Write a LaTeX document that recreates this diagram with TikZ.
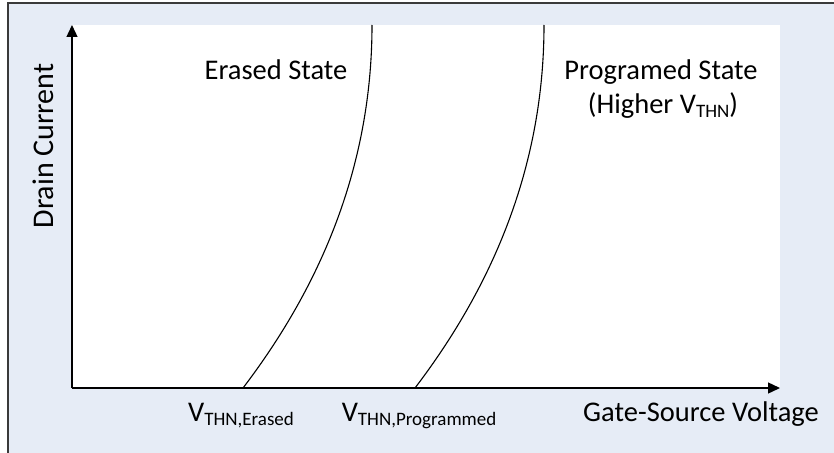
\documentclass[tikz,border=0pt]{standalone}
\usepackage{fontspec}
\setmainfont{Carlito}
\usetikzlibrary{arrows.meta,positioning}
\definecolor{panelblue}{HTML}{E6ECF6}
\definecolor{framegray}{HTML}{3A3A3A}
\newcommand{\vsub}[1]{V\raisebox{-4pt}{\fontsize{19}{19}\selectfont #1}}

\begin{document}
\begin{tikzpicture}[x=1pt, y=-1pt,
  lbl/.style={font=\fontsize{28.5}{34}\selectfont, inner sep=0pt, align=center},
  axis/.style={-{Triangle[length=12pt,width=11pt]}, line width=1.3pt},
  curve/.style={line width=1.1pt}
]
  \useasboundingbox (0,0) rectangle (834,452);
  \clip (0,0) rectangle (834,452);
  % frame and plot area
  \draw[framegray, line width=1.5pt, fill=panelblue] (8,3) rectangle (850,470);
  \fill[white] (72,25) rectangle (780,388);

  \coordinate (origin) at (72,388);
  \coordinate (ytip) at (72,25);
  \coordinate (xtip) at (780,388);
  \draw[axis] (origin) -- (ytip);
  \draw[axis] (origin) -- (xtip);

  % transfer curves
  \coordinate (eBot) at (243,388);
  \coordinate (eTop) at (372,25);
  \coordinate (pBot) at (415,388);
  \coordinate (pTop) at (544,25);
  \draw[curve] (eBot) .. controls +(67,-88) and +(0,155) .. (eTop);
  \draw[curve] (pBot) .. controls +(67,-88) and +(0,155) .. (pTop);

  \node[lbl, anchor=base] (erased) at (276,79) {Erased State};
  \node[lbl, anchor=base] (prog) at (661,79) {Programed State};
  \node[lbl, anchor=base] (higher) at (663,113) {(Higher \vsub{THN})};
  \node[lbl, anchor=base] (vErased) at (241,421) {\vsub{THN,Erased}};
  \node[lbl, anchor=base] (vProg) at (419,421) {\vsub{THN,Programmed}};
  \node[lbl, anchor=base] (xlabel) at (701,421) {Gate-Source Voltage};
  \node[lbl, anchor=base, rotate=90, font=\fontsize{30}{34}\selectfont] (ylabel) at (53,146) {Drain Current};
\end{tikzpicture}
\end{document}
